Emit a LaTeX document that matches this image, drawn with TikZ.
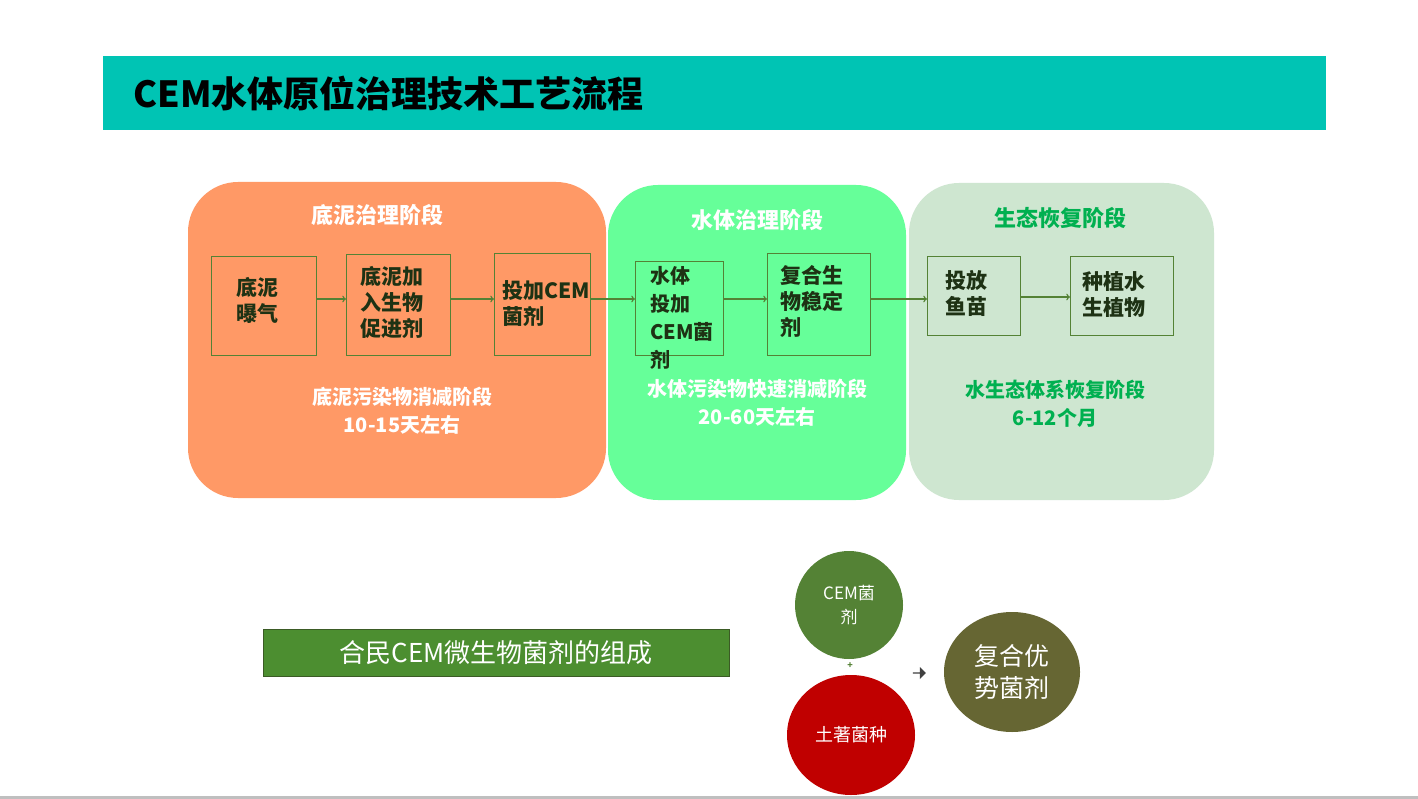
\documentclass[tikz,border=0pt]{standalone}
\usepackage{fontspec}
\setmainfont{Noto Sans CJK SC}
\newcommand\cjkb{\bfseries}
\usetikzlibrary{positioning,shapes.arrows,shapes.geometric}
\definecolor{teal}{RGB}{0,196,180}
\definecolor{orangebg}{RGB}{255,153,102}
\definecolor{greenbg}{RGB}{102,255,153}
\definecolor{palebg}{RGB}{206,230,208}
\definecolor{boxline}{RGB}{84,130,53}
\definecolor{darktext}{RGB}{30,50,20}
\definecolor{ecogreen}{RGB}{0,176,80}
\definecolor{olive}{RGB}{102,102,51}
\definecolor{deepred}{RGB}{192,0,0}
\tikzset{
  stage/.style={rounded corners=50pt},
  stepbox/.style={draw=boxline, line width=0.8pt, anchor=north west, inner sep=0pt},
  steptext/.style={text=darktext, font=\cjkb\fontsize{21}{26}\selectfont, align=left, anchor=north west, inner sep=0pt},
  flow/.style={->, draw=boxline, line width=1.4pt},
  head/.style={font=\cjkb\fontsize{22}{26}\selectfont},
  note/.style={font=\cjkb\fontsize{20}{28}\selectfont, align=center},
  ball/.style={circle, inner sep=0pt, text=white, align=center}
}
\begin{document}
\begin{tikzpicture}[x=1pt, y=-1pt]
\useasboundingbox (0,0) rectangle (1418,799);
\fill[white] (0,0) rectangle (1418,799);
\fill[black!25] (0,796) rectangle (1418,799);
% title
\fill[teal] (103,56) rectangle (1326,130);
\node[anchor=west, font=\cjkb\fontsize{36}{40}\selectfont] (title) at (130,93) {CEM水体原位治理技术工艺流程};
% stages
\fill[orangebg, stage] (188,182) rectangle (606,498);
\fill[greenbg, stage] (608,185) rectangle (906,500);
\fill[palebg, stage] (909,183) rectangle (1214,500);
\node[head, text=white] (h1) at (377,215) {底泥治理阶段};
\node[head, text=white] (h2) at (757,220) {水体治理阶段};
\node[head, text=ecogreen] (h3) at (1060,218) {生态恢复阶段};
% step boxes
\node[stepbox, minimum width=105pt, minimum height=99pt] (s1) at (211,256) {};
\node[stepbox, minimum width=104pt, minimum height=101pt] (s2) at (346,254) {};
\node[stepbox, minimum width=96pt, minimum height=102pt] (s3) at (494,253) {};
\node[stepbox, minimum width=88pt, minimum height=94pt] (s4) at (635,261) {};
\node[stepbox, minimum width=103pt, minimum height=102pt] (s5) at (767,253) {};
\node[stepbox, minimum width=93pt, minimum height=79pt] (s6) at (927,256) {};
\node[stepbox, minimum width=103pt, minimum height=79pt] (s7) at (1070,256) {};
\node[steptext] (t1) at (236,277) {底泥\\曝气};
\node[steptext] (t2) at (360,266) {底泥加\\入生物\\促进剂};
\node[steptext] (t3) at (502,280) {投加CEM\\菌剂};
\node[steptext, font=\cjkb\fontsize{20}{28}\selectfont] (t4) at (650,266) {水体\\投加\\CEM菌\\剂};
\node[steptext] (t5) at (780,265) {复合生\\物稳定\\剂};
\node[steptext] (t6) at (945,270) {投放\\鱼苗};
\node[steptext] (t7) at (1082,271) {种植水\\生植物};
\draw[flow] (s1.east |- 0,299) -- (s2.west |- 0,299);
\draw[flow] (s2.east |- 0,299) -- (s3.west |- 0,299);
\draw[flow] (s3.east |- 0,299) -- (s4.west |- 0,299);
\draw[flow] (s4.east |- 0,299) -- (s5.west |- 0,299);
\draw[flow] (s5.east |- 0,299) -- (s6.west |- 0,299);
\draw[flow] (s6.east |- 0,297) -- (s7.west |- 0,297);
% durations
\node[note, text=white] (d1) at (402,411) {底泥污染物消减阶段\\10-15天左右};
\node[note, text=white] (d2) at (757,403) {水体污染物快速消减阶段\\20-60天左右};
\node[note, text=ecogreen] (d3) at (1055,404) {水生态体系恢复阶段\\6-12个月};
% composition
\node[draw=boxline!70!black, fill=boxline!90!green, minimum width=466pt, minimum height=47pt, text=white,
  font=\fontsize{26}{30}\selectfont] (comp) at (496,652.5) {合民CEM微生物菌剂的组成};
\node[ball, fill=boxline, minimum size=108pt, font=\fontsize{17}{24}\selectfont] (cem) at (849,605) {CEM菌\\剂};
\node[ball, ellipse, fill=deepred, minimum width=128pt, minimum height=120pt, font=\fontsize{18}{24}\selectfont] (native) at (851,735) {土著菌种};
\node[ball, ellipse, fill=olive, minimum width=136pt, minimum height=120pt, font=\fontsize{25}{32}\selectfont] (mix) at (1012,672) {复合优\\势菌剂};
\node[text=boxline, font=\bfseries\fontsize{9}{9}\selectfont, inner sep=0pt] (plus) at (850,666) {+};
\node[single arrow, fill=black!75, minimum width=12pt, minimum height=13pt, single arrow head extend=2pt, inner sep=0pt] (arr) at (919,673) {};
\end{tikzpicture}
\end{document}
